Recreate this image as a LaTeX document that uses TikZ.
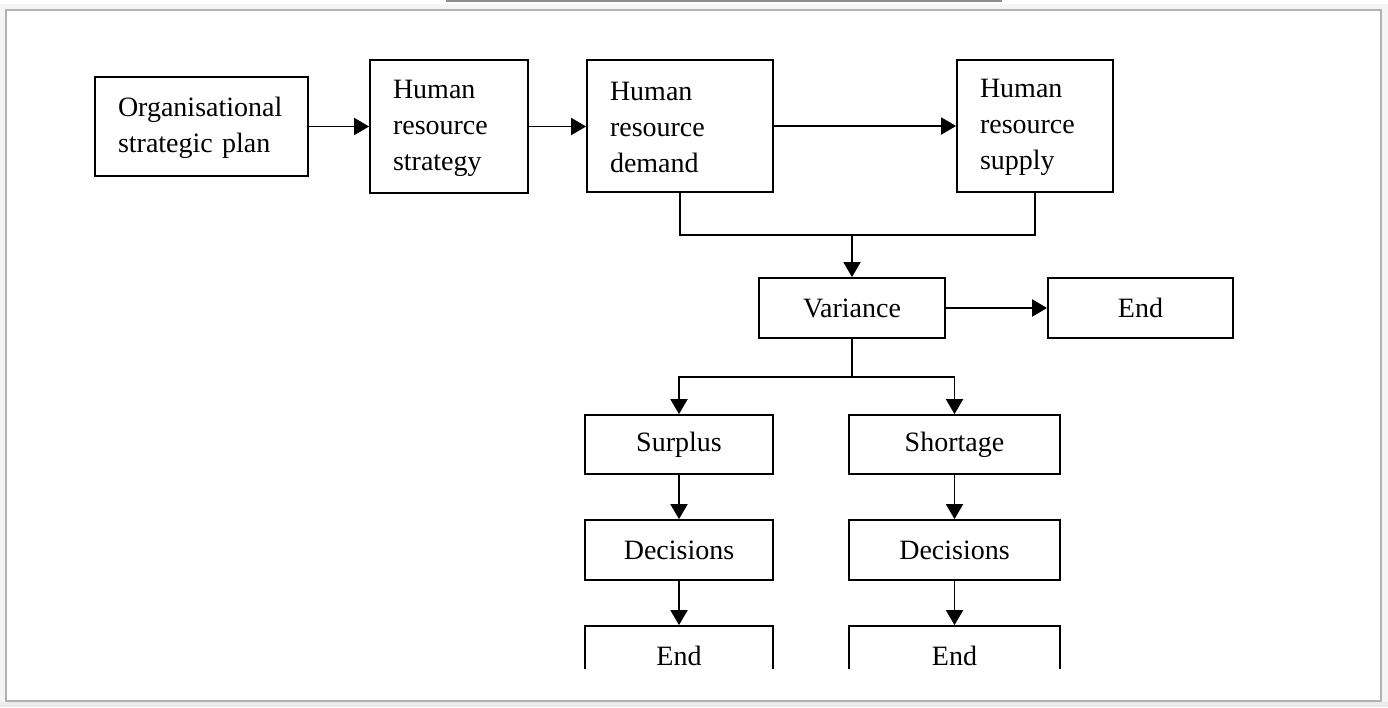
\documentclass[tikz,border=0pt]{standalone}
\usepackage{fontspec}
\setmainfont{Liberation Serif}
\usetikzlibrary{arrows.meta}
\tikzset{
  box/.style={draw=black, line width=1.8pt, rectangle, inner sep=0pt,
    font=\fontsize{28pt}{36pt}\selectfont},
  lbox/.style={box, align=left},
  conn/.style={draw=black, line width=1.9pt},
  arr/.style={conn, -{Triangle[length=15pt,width=17pt]}},
}
\begin{document}
\begin{tikzpicture}[x=1pt,y=-1pt]
\useasboundingbox (0,0) rectangle (1388,707);
% page frame with shadow
\fill[black!4] (0,4) rectangle (1388,707);
\fill[white] (6,10) rectangle (1381,701);
\draw[black!30, line width=2pt] (6,10) rectangle (1381,701);
\fill[black!8] (0,702) rectangle (1388,707);
\draw[black!45, line width=2pt] (446,0.5) -- (1002,0.5);
% top row
\node[lbox, minimum width=213, minimum height=99, text width=167] (osp) at (201.5,126.5)
  {\rule{0pt}{22pt}Organisational\\strategic plan};
\node[lbox, minimum width=158, minimum height=133, text width=112] (hrs) at (449,126.5)
  {\rule{0pt}{22pt}Human\\resource\\strategy};
\node[lbox, minimum width=186, minimum height=132, text width=140] (hrd) at (680,126)
  {\rule{0pt}{22pt}Human\\resource\\demand};
\node[lbox, minimum width=156, minimum height=132, text width=110] (hrsup) at (1035,126)
  {\rule{0pt}{22pt}Human\\resource\\supply};
% middle
\node[box, minimum width=186, minimum height=60] (var) at (852,308) {Variance};
\node[box, minimum width=185, minimum height=60] (endA) at (1140.5,308) {End};
\node[box, minimum width=188, minimum height=59] (sur) at (679,444.5) {Surplus};
\node[box, minimum width=211, minimum height=59] (sho) at (954.5,444.5) {Shortage};
\node[box, minimum width=188, minimum height=60] (decA) at (679,550) {Decisions};
\node[box, minimum width=211, minimum height=60] (decB) at (954.5,550) {Decisions};
\begin{scope}
\clip (0,0) rectangle (1388,668);
\node[box, minimum width=188, minimum height=60] (endB) at (679,656) {End};
\node[box, minimum width=211, minimum height=60] (endC) at (954.5,656) {End};
\end{scope}
% connectors
\coordinate (mj) at (852,235);
\coordinate (vj) at (852,377);
\draw[arr] (osp.east) -- (hrs.west |- osp.east);
\draw[arr] (hrs.east) -- (hrd.west |- hrs.east);
\draw[arr] (hrd.east) -- (hrsup.west);
\draw[conn] (hrd.south) |- (mj) -| (hrsup.south);
\draw[arr] (mj) -- (var.north);
\draw[arr] (var.east) -- (endA.west);
\draw[conn] (var.south) -- (vj);
\draw[arr] (vj) -| (sur.north);
\draw[arr] (vj) -| (sho.north);
\draw[arr] (sur.south) -- (decA.north);
\draw[arr] (sho.south) -- (decB.north);
\draw[arr] (decA.south) -- (endB.north);
\draw[arr] (decB.south) -- (endC.north);
\end{tikzpicture}
\end{document}
